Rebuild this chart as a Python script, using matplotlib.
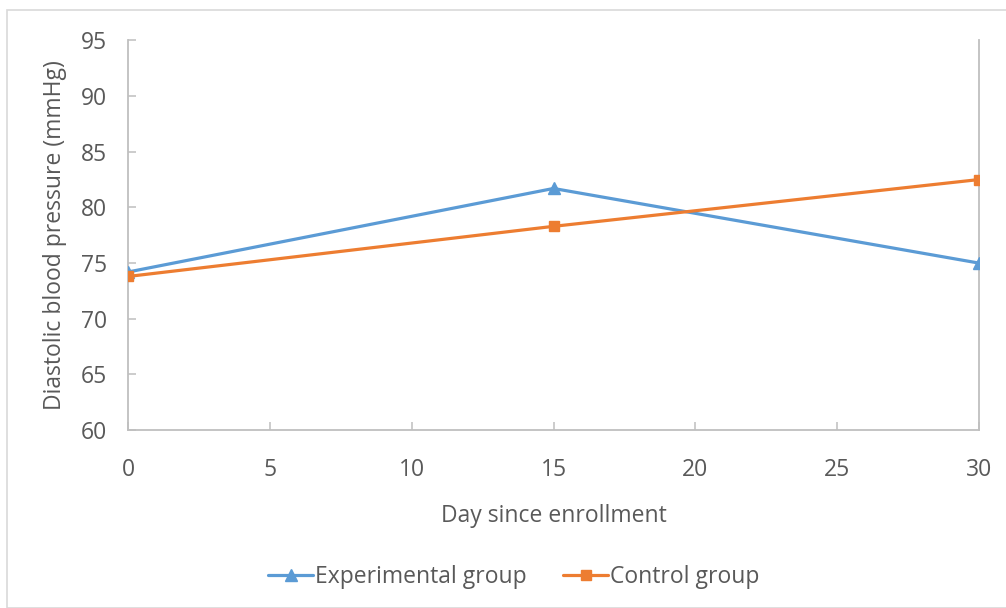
import matplotlib
matplotlib.use("Agg")
import matplotlib.pyplot as plt
from matplotlib.patches import Rectangle

# Data
days = [0, 15, 30]
experimental = [74.2, 81.7, 75.0]
control = [73.8, 78.3, 82.5]
series_names = ["Experimental group", "Control group"]
x_ticks = [0, 5, 10, 15, 20, 25, 30]
y_ticks = [60, 65, 70, 75, 80, 85, 90, 95]

TEXT = "#595959"
AXIS = "#bfbfbf"
BLUE = "#5B9BD5"
ORANGE = "#ED7D31"
FS = 16.5

plt.rcParams["font.family"] = ["Open Sans", "DejaVu Sans"]

W, H = 1006, 608
fig = plt.figure(figsize=(W / 100, H / 100), dpi=100)

# chart frame
fig.patches.append(Rectangle((7 / W, 0), 1.0, 1 - 10 / H, transform=fig.transFigure,
                             fill=False, edgecolor="#d9d9d9", linewidth=1.2))

left, right, top, bottom = 128, 979, 40.3, 430.2
ax = fig.add_axes([left / W, 1 - bottom / H, (right - left) / W, (bottom - top) / H])

ax.plot(days, experimental, color=BLUE, lw=2.3, marker="^", ms=9,
        label=series_names[0], solid_capstyle="round", zorder=3)
ax.plot(days, control, color=ORANGE, lw=2.3, marker="s", ms=7.8,
        label=series_names[1], solid_capstyle="round", zorder=4)

ax.set_xlim(0, 30)
ax.set_ylim(60, 95)
ax.set_xticks(x_ticks)
ax.set_yticks(y_ticks)

for side in ["left", "bottom", "right"]:
    ax.spines[side].set_color(AXIS)
    ax.spines[side].set_linewidth(1.3)
ax.spines["top"].set_visible(False)

ax.tick_params(axis="both", direction="in", length=6, width=1.1, color=AXIS,
               labelcolor=TEXT, labelsize=FS)
ax.tick_params(axis="y", pad=15)
ax.tick_params(axis="x", pad=20)

ax.set_xlabel("Day since enrollment", color=TEXT, fontsize=FS, labelpad=16)
ax.set_ylabel("Diastolic blood pressure (mmHg)", color=TEXT, fontsize=FS, labelpad=10)

leg = fig.legend(loc="center", bbox_to_anchor=(514 / W, 1 - 577 / H), ncol=2, frameon=False,
                 fontsize=FS, handlelength=1.95, handletextpad=0.1, columnspacing=1.6,
                 labelcolor=TEXT)

fig.savefig("out.png", dpi=100)
